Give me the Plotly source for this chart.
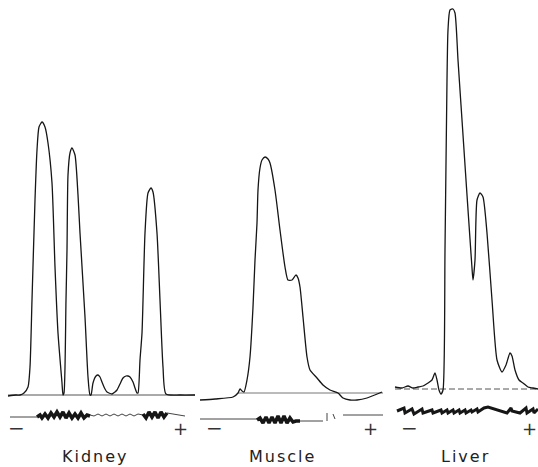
import plotly.graph_objects as go

# ---------------- data (position along strip, density above baseline) ----------------
kidney_x = [8, 16, 20, 24, 28, 30, 32, 35, 37, 39, 42, 45, 48, 52, 55, 58, 62, 63,
            64, 66, 67, 68, 70, 72, 75, 78, 80, 85, 88, 90,
            91, 93, 96, 98, 100, 102, 105, 107, 112, 115, 117, 120, 123, 126, 128, 130, 133, 135, 137,
            138, 140, 142, 145, 148, 151, 153, 157, 160, 163, 166, 180, 195]
kidney_y = [-1, 0, 0, 2, 8, 28, 95, 195, 245, 268, 273, 268, 252, 212, 128, 62, 12, 0,
            2, 95, 145, 220, 242, 247, 240, 200, 162, 78, 18, 0,
            0, 12, 19, 20, 18, 13, 6, 3, 1, 3, 5, 11, 17, 19, 19, 18, 13, 7, 2,
            2, 35, 62, 162, 202, 207, 203, 162, 95, 28, 1, 0, 0]

muscle_x = [5, 20, 38, 43, 45, 47, 49, 52, 55, 58, 60, 62, 63, 65, 67, 70, 73, 75, 80, 85,
            90, 93, 97, 101, 103, 105, 108, 112, 115, 122, 128, 135, 143, 148, 155, 162, 172, 187]
muscle_y = [-7, -6, -4, 0, 4, 2, 1, 13, 36, 86, 133, 170, 203, 225, 233, 236, 234, 230, 203, 163,
            126, 113, 113, 118, 115, 106, 76, 36, 23, 15, 8, 3, 0, -5, -7, -7, -5, 1]

liver_x = [10, 17, 23, 28, 33, 38, 43, 47, 50, 52, 54, 56, 58, 60, 62, 63, 65, 68, 70, 73, 76,
           79, 82, 85, 87, 88, 90, 92, 95, 98, 102, 107, 112, 117, 121, 125, 127, 130, 134, 138,
           143, 148, 153]
liver_y = [2, 1, 3, 1, 2, 3, 6, 9, 16, 9, -1, -5, -1, 139, 309, 359, 379, 380, 376, 329, 284,
           239, 194, 150, 121, 109, 129, 189, 196, 192, 156, 89, 29, 17, 24, 36, 33, 19, 9, 6,
           2, 1, 0]

# integrator (lower) traces
kid_int_x = [37, 40, 42, 45, 48, 51, 54, 57, 60, 63, 66, 69, 72, 75, 78, 81, 84, 87, 90]
kid_int_y = [-22, -20, -23, -19, -23, -18, -22, -17, -22, -17, -23, -18, -23, -19, -23, -18, -23, -20, -21]
kid_int2_x = [143, 146, 149, 152, 155, 158, 161, 164, 167]
kid_int2_y = [-19, -23, -17, -22, -17, -23, -17, -22, -18]
kid_thin_x = [10, 37, None, 90, 94, 98, 102, 106, 110, 114, 118, 122, 126, 130, 134, 138, 143, None, 167, 185]
kid_thin_y = [-22, -22, None, -20, -21, -19, -21, -19, -21, -19, -21, -19, -21, -19, -21, -19, -20, None, -18, -21]

mus_int_x = [62, 65, 68, 71, 74, 77, 80, 83, 86, 89, 92, 95, 98, 101, 105]
mus_int_y = [-27, -25, -30, -24, -30, -24, -30, -23, -30, -23, -30, -25, -29, -28, -28]
mus_thin_x = [5, 62, None, 105, 128, None, 132, 132, None, 138, 140, None, 148, 188]
mus_thin_y = [-26, -26, None, -28, -28, None, -20, -28, None, -21, -26, None, -22, -22]

liv_int_x = [12, 19, 20, 27, 29, 37, 38, 47, 48, 56, 57, 62, 63, 68, 69, 74, 75, 80, 81, 86,
             87, 92, 93, 99, 103, 109, 115, 122, 126, 127, 135, 141, 142, 148, 149, 153]
liv_int_y = [-22, -19, -24, -20, -25, -20, -24, -21, -24, -21, -24, -21, -24, -21, -24, -21,
             -24, -21, -24, -21, -23, -20, -23, -19, -18, -20, -22, -24, -19, -22, -24, -19,
             -24, -20, -24, -20]

panels = ["Kidney", "Muscle", "Liver"]

W, H = 538, 467
# panel geometry (pixels): left edge, width, baseline row
panel_left = [0, 195, 385]
panel_width = [195, 190, 153]
panel_base = [395, 393, 389]

fig = go.Figure()
line_col = "#161616"

def add(x, y, ax, width=1.3, color=line_col, dash="solid", shape="spline"):
    fig.add_trace(go.Scatter(x=x, y=y, mode="lines", xaxis=ax[0], yaxis=ax[1],
                             line=dict(color=color, width=width, dash=dash, shape=shape,
                                       smoothing=0.6),
                             hoverinfo="skip", showlegend=False, connectgaps=False))

axes = [("x", "y"), ("x2", "y2"), ("x3", "y3")]

# baselines
add([8, 195], [0, 0], axes[0], width=1, color="#555")
add([43, 188], [0, 0], axes[1], width=1, color="#777")
add([10, 153], [0, 0], axes[2], width=1, color="#555", dash="6px,3px")

# main density traces
add(kidney_x, kidney_y, axes[0])
add(muscle_x, muscle_y, axes[1])
add(liver_x, liver_y, axes[2])

# integrator traces
add(kid_thin_x, kid_thin_y, axes[0], width=1, color="#444", shape="linear")
add(kid_int_x, kid_int_y, axes[0], width=3.5, shape="linear")
add(kid_int2_x, kid_int2_y, axes[0], width=3.5, shape="linear")
add(mus_thin_x, mus_thin_y, axes[1], width=1, color="#444", shape="linear")
add(mus_int_x, mus_int_y, axes[1], width=3.5, shape="linear")
add(liv_int_x, liv_int_y, axes[2], width=3, shape="linear")

layout = dict(width=W, height=H, margin=dict(l=0, r=0, t=0, b=0),
              paper_bgcolor="white", plot_bgcolor="white", autosize=False)
for i in range(3):
    sfx = "" if i == 0 else str(i + 1)
    d0 = panel_left[i] / W
    d1 = (panel_left[i] + panel_width[i]) / W
    b = panel_base[i]
    layout["xaxis" + sfx] = dict(domain=[d0, d1], range=[0, panel_width[i]], visible=False,
                                 fixedrange=True)
    layout["yaxis" + sfx] = dict(domain=[0, 1], range=[b - H, b], visible=False,
                                 fixedrange=True, anchor="x" + sfx)
    if i > 0:
        layout["xaxis" + sfx]["anchor"] = "y" + sfx
fig.update_layout(**layout)

label_x = [95, 282, 465]
minus_x = [16, 214, 409]
plus_x = [180, 370, 529]
font = "DejaVu Sans, Liberation Sans, sans-serif"
for i, name in enumerate(panels):
    fig.add_annotation(text='<span style="letter-spacing:2px">' + name + '</span>',
                       x=label_x[i] / W, y=1 - 456 / H, xref="paper", yref="paper",
                       showarrow=False, xanchor="center", yanchor="middle",
                       font=dict(family=font, size=16, color="#222"))
    fig.add_annotation(text="−", x=minus_x[i] / W, y=1 - 428 / H, xref="paper", yref="paper",
                       showarrow=False, xanchor="center", yanchor="middle",
                       font=dict(family=font, size=20, color="#333"))
    fig.add_annotation(text="+", x=plus_x[i] / W, y=1 - 428 / H, xref="paper", yref="paper",
                       showarrow=False, xanchor="center", yanchor="middle",
                       font=dict(family=font, size=18, color="#333"))

fig.write_html("out.html", config={"displayModeBar": False},
               post_script="document.body.style.margin='0';document.body.style.padding='0';")
